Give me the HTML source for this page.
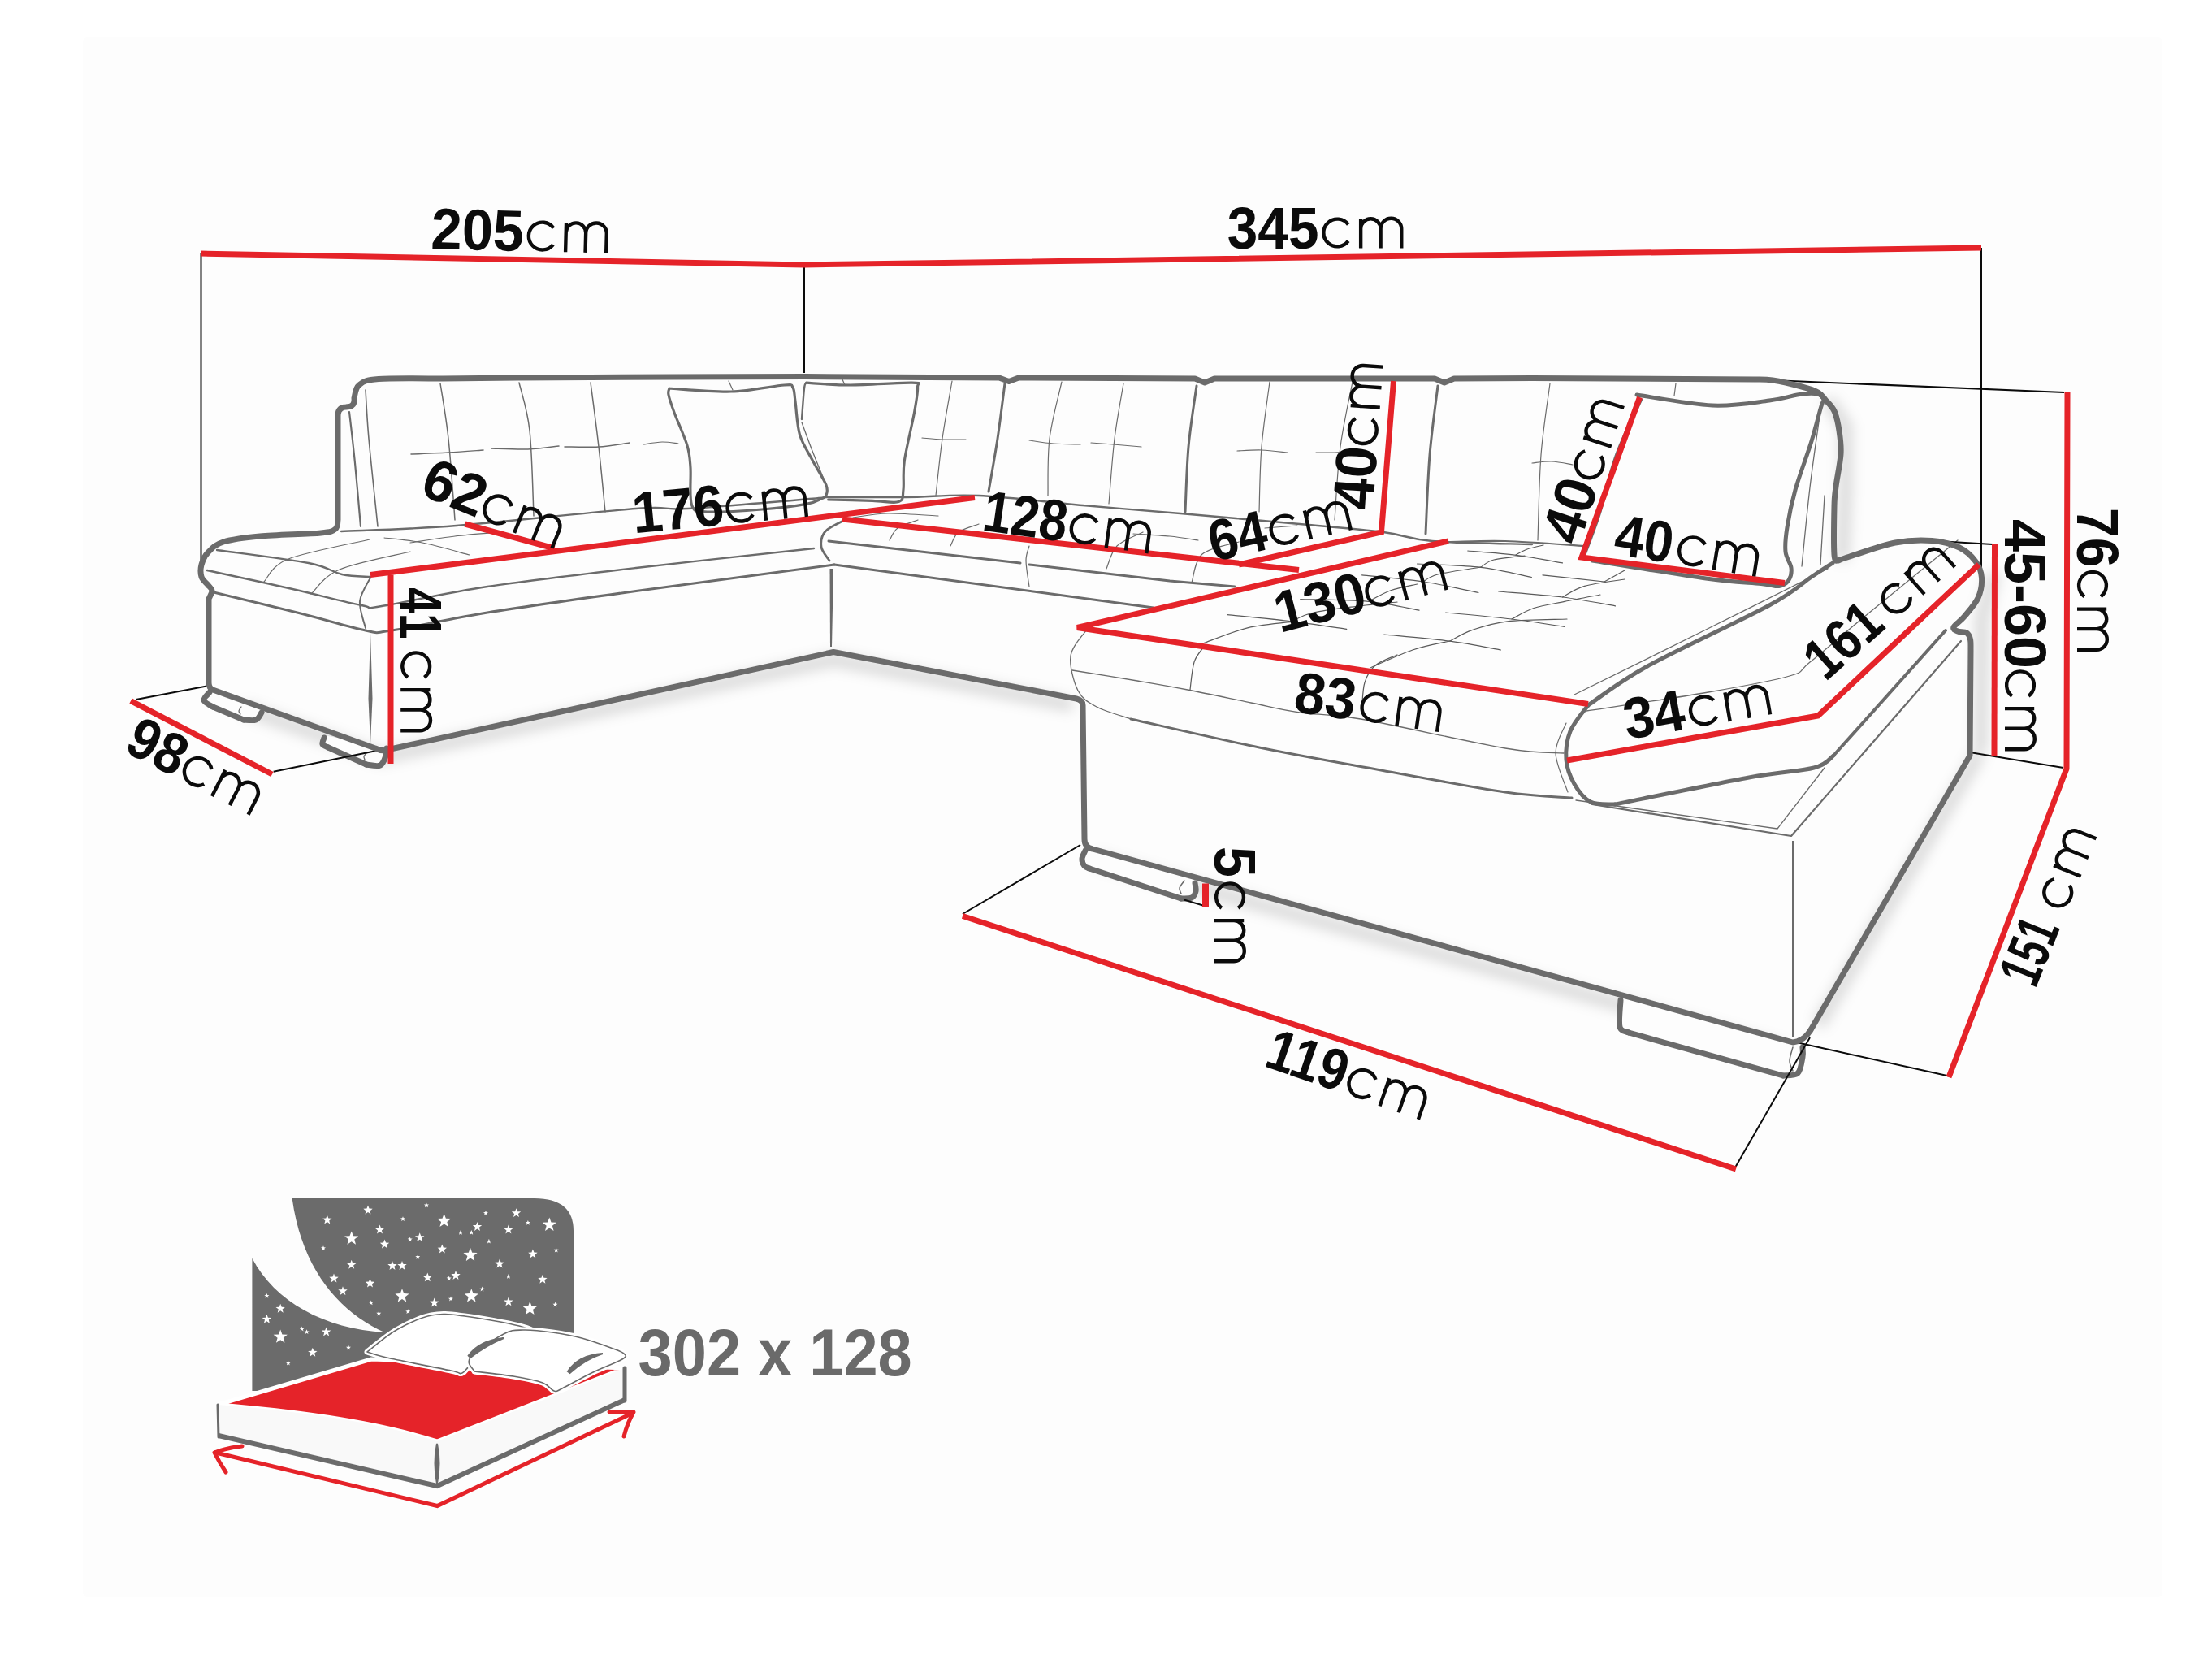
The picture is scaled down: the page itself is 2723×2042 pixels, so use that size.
<!DOCTYPE html>
<html><head><meta charset="utf-8"><style>
html,body{margin:0;padding:0;background:#fff;width:2723px;height:2042px;overflow:hidden}
svg{display:block}
text{font-family:"Liberation Sans",sans-serif}
</style></head><body>
<svg width="2723" height="2042" viewBox="0 0 2723 2042"><rect width="2723" height="2042" fill="#ffffff"/>
<rect x="102" y="46" width="2560" height="1920" rx="6" fill="#fdfdfd"/>
<defs><filter id="sh" x="-20%" y="-20%" width="140%" height="140%"><feGaussianBlur stdDeviation="8"/></filter></defs>
<g filter="url(#sh)" fill="none" stroke="#000" stroke-opacity="0.14" stroke-width="16"><path d="M300,872 L470,932 L1026,812 L1320,868"/><path d="M1350,1058 L2195,1292"/><path d="M2238,1262 L2436,928"/><path d="M2250,492 L2272,525 L2272,600 L2268,690"/><path d="M2455,705 L2440,760 L2438,925"/></g>
<path d="M258,849 L251,862 L262,870 L300,886 L315,886 L322,877 L322,870 Z" fill="#fdfdfd"/>
<path d="M399,905 L397,916 L404,920 L451,941 L468,942 L475,930 L476,920 Z" fill="#fdfdfd"/>
<path d="M1340,1044 L1332,1057 L1335,1066 L1341,1069 L1454,1106 L1467,1105 L1472,1097 L1471,1080 Z" fill="#fdfdfd"/>
<path d="M1995,1222 L1994,1264 L2005,1271 L2195,1324 L2213,1321 L2219,1301 L2219,1283 L2207,1283 Z" fill="#fdfdfd"/>
<path d="M430.0,507.0 C431.2,517.5 434.7,546.5 437.0,570.0 C439.3,593.5 442.8,635.0 444.0,648.0" fill="none" stroke="#6b6b6b" stroke-width="2.2" stroke-linecap="round" stroke-linejoin="round" />
<path d="M450.0,480.0 C450.7,490.0 451.5,512.0 454.0,540.0 C456.5,568.0 463.2,630.0 465.0,648.0" fill="none" stroke="#6b6b6b" stroke-width="1.6" stroke-linecap="round" stroke-linejoin="round" />
<path d="M542.0,472.0 C543.7,483.3 549.0,512.0 552.0,540.0 C555.0,568.0 558.7,623.3 560.0,640.0" fill="none" stroke="#6b6b6b" stroke-width="1.5" stroke-linecap="round" stroke-linejoin="round" />
<path d="M639.0,471.0 C641.2,480.8 649.0,502.7 652.0,530.0 C655.0,557.3 656.2,617.5 657.0,635.0" fill="none" stroke="#6b6b6b" stroke-width="1.5" stroke-linecap="round" stroke-linejoin="round" />
<path d="M727.0,471.0 C728.7,484.2 734.0,523.5 737.0,550.0 C740.0,576.5 743.7,616.7 745.0,630.0" fill="none" stroke="#6b6b6b" stroke-width="1.5" stroke-linecap="round" stroke-linejoin="round" />
<path d="M506.0,559.0 C513.7,558.7 537.2,557.8 552.0,557.0 C566.8,556.2 587.8,554.5 595.0,554.0" fill="none" stroke="#6b6b6b" stroke-width="1.5" stroke-linecap="round" stroke-linejoin="round" />
<path d="M605.0,552.0 C612.5,552.2 636.2,553.5 650.0,553.0 C663.8,552.5 681.7,549.7 688.0,549.0" fill="none" stroke="#6b6b6b" stroke-width="1.5" stroke-linecap="round" stroke-linejoin="round" />
<path d="M695.0,550.0 C702.0,550.0 723.7,550.8 737.0,550.0 C750.3,549.2 768.7,545.8 775.0,545.0" fill="none" stroke="#6b6b6b" stroke-width="1.5" stroke-linecap="round" stroke-linejoin="round" />
<path d="M420.0,654.0 C443.7,652.8 501.5,651.7 562.0,647.0 C622.5,642.3 735.5,629.5 783.0,626.0 C830.5,622.5 808.3,628.2 847.0,626.0 C885.7,623.8 987.0,614.8 1015.0,612.5" fill="none" stroke="#6b6b6b" stroke-width="2.4" stroke-linecap="round" stroke-linejoin="round" />
<path d="M267.0,677.0 C285.8,679.7 354.3,688.0 380.0,693.0 C405.7,698.0 408.3,704.2 421.0,707.0 C433.7,709.8 450.2,709.5 456.0,710.0" fill="none" stroke="#6b6b6b" stroke-width="2.4" stroke-linecap="round" stroke-linejoin="round" />
<path d="M255.0,702.0 C272.5,705.8 328.3,717.8 360.0,725.0 C391.7,732.2 426.7,741.5 445.0,745.0 C463.3,748.5 444.2,749.8 470.0,746.0 C495.8,742.2 547.8,729.8 600.0,722.0 C652.2,714.2 716.0,706.8 783.0,699.0 C850.0,691.2 965.5,679.0 1002.0,675.0" fill="none" stroke="#6b6b6b" stroke-width="2.4" stroke-linecap="round" stroke-linejoin="round" />
<path d="M263.0,729.0 C280.8,733.3 338.8,747.2 370.0,755.0 C401.2,762.8 431.3,772.5 450.0,776.0 C468.7,779.5 457.0,779.7 482.0,776.0 C507.0,772.3 549.8,762.1 600.0,754.0 C650.2,745.9 711.8,737.3 783.0,727.5 C854.2,717.7 986.3,700.4 1027.0,695.0" fill="none" stroke="#6b6b6b" stroke-width="3" stroke-linecap="round" stroke-linejoin="round" />
<path d="M456.0,711.0 C453.8,715.8 444.0,729.7 443.0,740.0 C442.0,750.3 448.8,767.5 450.0,773.0" fill="none" stroke="#6b6b6b" stroke-width="2" stroke-linecap="round" stroke-linejoin="round" />
<path d="M456,778 L458.5,860 L456,916 L453.5,860 Z" fill="#6b6b6b"/>
<path d="M325.0,716.0 C330.0,711.3 333.3,696.7 355.0,688.0 C376.7,679.3 438.3,668.0 455.0,664.0" fill="none" stroke="#6b6b6b" stroke-width="1.2" stroke-linecap="round" stroke-linejoin="round" />
<path d="M383.0,731.0 C388.8,726.0 397.7,709.7 418.0,701.0 C438.3,692.3 490.5,682.7 505.0,679.0" fill="none" stroke="#6b6b6b" stroke-width="1.2" stroke-linecap="round" stroke-linejoin="round" />
<path d="M473.0,662.0 C480.8,663.0 502.5,664.5 520.0,668.0 C537.5,671.5 568.3,680.5 578.0,683.0" fill="none" stroke="#6b6b6b" stroke-width="1.2" stroke-linecap="round" stroke-linejoin="round" />
<path d="M505.0,668.0 C514.2,666.7 541.7,662.2 560.0,660.0 C578.3,657.8 605.8,655.8 615.0,655.0" fill="none" stroke="#6b6b6b" stroke-width="1.2" stroke-linecap="round" stroke-linejoin="round" />
<path d="M1021.5,700 L1026,700 L1024,796 L1022,796 Z" fill="#6b6b6b"/>
<path d="M824.0,478.0 C836.7,478.7 876.4,482.7 900.0,482.0 C923.6,481.3 952.8,474.8 965.5,474.0 C978.2,473.2 973.8,473.7 976.0,477.0 C978.2,480.3 977.6,484.3 979.0,494.0 C980.4,503.7 980.9,522.8 984.5,535.0 C988.1,547.2 995.3,557.2 1000.7,567.5 C1006.1,577.8 1014.3,590.0 1017.0,597.0 C1019.7,604.0 1017.9,606.7 1017.0,609.5 C1016.1,612.3 1015.7,611.8 1011.6,613.6 C1007.5,615.4 1004.9,618.2 992.6,620.4 C980.3,622.6 958.4,625.4 938.0,627.0 C917.6,628.6 884.9,630.9 870.5,630.0 C856.1,629.1 855.0,630.8 851.6,621.7 C848.2,612.6 850.9,587.8 850.0,575.6 C849.1,563.4 849.3,559.8 846.0,548.5 C842.7,537.2 833.8,518.2 830.0,507.8 C826.2,497.4 824.0,491.0 823.0,486.0 C822.0,481.0 823.8,479.3 824.0,478.0" fill="none" stroke="#6b6b6b" stroke-width="3.2" stroke-linecap="round" stroke-linejoin="round" />
<path d="M992.6,471.2 C1001.6,471.7 1025.1,474.0 1046.8,474.0 C1068.5,474.0 1109.0,470.8 1122.8,471.2 C1136.6,471.6 1129.1,470.5 1129.6,476.6 C1130.0,482.7 1128.2,492.7 1125.5,507.8 C1122.8,523.0 1115.5,551.7 1113.3,567.5 C1111.0,583.3 1113.1,594.4 1112.0,602.7 C1110.9,611.1 1112.8,615.3 1106.5,617.6 C1100.2,619.9 1088.5,616.7 1074.0,616.3 C1059.5,615.9 1028.8,615.2 1019.7,615.0" fill="none" stroke="#6b6b6b" stroke-width="3.2" stroke-linecap="round" stroke-linejoin="round" />
<path d="M992.6,471.2 C992.2,472.3 990.9,470.5 990.0,478.0 C989.1,485.5 987.5,509.7 987.0,516.0" fill="none" stroke="#6b6b6b" stroke-width="2.4" stroke-linecap="round" stroke-linejoin="round" />
<path d="M987.0,520.0 C989.2,525.8 995.0,542.2 1000.0,555.0 C1005.0,567.8 1014.2,590.0 1017.0,597.0" fill="none" stroke="#6b6b6b" stroke-width="1.3" stroke-linecap="round" stroke-linejoin="round" />
<path d="M792.0,547.0 C795.8,546.5 807.8,544.2 815.0,544.0 C822.2,543.8 831.7,545.7 835.0,546.0" fill="none" stroke="#6b6b6b" stroke-width="1.2" stroke-linecap="round" stroke-linejoin="round" />
<path d="M897.0,469.0 C897.8,470.8 901.2,478.2 902.0,480.0" fill="none" stroke="#6b6b6b" stroke-width="1.2" stroke-linecap="round" stroke-linejoin="round" />
<path d="M1037.0,467.0 C1037.5,468.2 1039.5,472.8 1040.0,474.0" fill="none" stroke="#6b6b6b" stroke-width="1.2" stroke-linecap="round" stroke-linejoin="round" />
<path d="M1172.0,469.0 C1170.0,480.8 1163.3,516.5 1160.0,540.0 C1156.7,563.5 1153.3,598.3 1152.0,610.0" fill="none" stroke="#6b6b6b" stroke-width="1.2" stroke-linecap="round" stroke-linejoin="round" />
<path d="M1135.0,539.0 C1139.2,539.3 1151.0,540.7 1160.0,541.0 C1169.0,541.3 1184.2,541.0 1189.0,541.0" fill="none" stroke="#6b6b6b" stroke-width="1.2" stroke-linecap="round" stroke-linejoin="round" />
<path d="M1237.0,472.0 C1235.5,483.3 1231.3,517.8 1228.0,540.0 C1224.7,562.2 1218.8,594.2 1217.0,605.0" fill="none" stroke="#6b6b6b" stroke-width="3" stroke-linecap="round" stroke-linejoin="round" />
<path d="M1307.0,470.0 C1304.5,481.7 1294.8,516.7 1292.0,540.0 C1289.2,563.3 1290.3,598.3 1290.0,610.0" fill="none" stroke="#6b6b6b" stroke-width="1.2" stroke-linecap="round" stroke-linejoin="round" />
<path d="M1267.0,542.0 C1272.0,542.7 1286.5,545.2 1297.0,546.0 C1307.5,546.8 1324.5,546.8 1330.0,547.0" fill="none" stroke="#6b6b6b" stroke-width="1.2" stroke-linecap="round" stroke-linejoin="round" />
<path d="M1015.0,612.0 C1031.7,612.0 1083.3,612.3 1115.0,612.0 C1146.7,611.7 1168.7,608.3 1205.0,610.0 C1241.3,611.7 1291.7,618.3 1333.0,622.0 C1374.3,625.7 1408.5,628.2 1453.0,632.0 C1497.5,635.8 1558.3,641.2 1600.0,645.0 C1641.7,648.8 1675.8,651.5 1703.0,655.0 C1730.2,658.5 1732.5,663.5 1763.0,666.0 C1793.5,668.5 1865.5,669.3 1886.0,670.0" fill="none" stroke="#6b6b6b" stroke-width="2.4" stroke-linecap="round" stroke-linejoin="round" />
<path d="M1040.0,640.0 C1036.0,642.3 1020.8,648.5 1016.0,654.0 C1011.2,659.5 1010.2,667.0 1011.0,673.0 C1011.8,679.0 1019.3,687.2 1021.0,690.0" fill="none" stroke="#6b6b6b" stroke-width="2.8" stroke-linecap="round" stroke-linejoin="round" />
<path d="M1020.0,666.0 L1256.0,693.0" fill="none" stroke="#6b6b6b" stroke-width="3" stroke-linecap="round" stroke-linejoin="round" />
<path d="M1267.0,695.0 L1440.0,715.0 L1520.0,722.0" fill="none" stroke="#6b6b6b" stroke-width="3" stroke-linecap="round" stroke-linejoin="round" />
<path d="M1027.0,695.0 L1420.0,748.0" fill="none" stroke="#6b6b6b" stroke-width="3" stroke-linecap="round" stroke-linejoin="round" />
<path d="M1267.0,672.0 C1266.3,675.0 1263.0,681.7 1263.0,690.0 C1263.0,698.3 1266.3,716.7 1267.0,722.0" fill="none" stroke="#6b6b6b" stroke-width="1.2" stroke-linecap="round" stroke-linejoin="round" />
<path d="M1095.0,665.0 C1096.7,662.5 1099.2,654.2 1105.0,650.0 C1110.8,645.8 1125.8,641.7 1130.0,640.0" fill="none" stroke="#6b6b6b" stroke-width="1.2" stroke-linecap="round" stroke-linejoin="round" />
<path d="M1170.0,672.0 C1171.7,669.2 1174.2,659.5 1180.0,655.0 C1185.8,650.5 1200.8,646.7 1205.0,645.0" fill="none" stroke="#6b6b6b" stroke-width="1.2" stroke-linecap="round" stroke-linejoin="round" />
<path d="M1050.0,637.0 C1057.2,636.2 1075.5,632.3 1093.0,632.0 C1110.5,631.7 1144.7,634.5 1155.0,635.0" fill="none" stroke="#6b6b6b" stroke-width="1.2" stroke-linecap="round" stroke-linejoin="round" />
<path d="M1362.0,700.0 C1364.2,695.3 1367.5,679.5 1375.0,672.0 C1382.5,664.5 1401.7,657.8 1407.0,655.0" fill="none" stroke="#6b6b6b" stroke-width="1.2" stroke-linecap="round" stroke-linejoin="round" />
<path d="M1467.0,717.0 C1469.2,711.2 1470.3,690.3 1480.0,682.0 C1489.7,673.7 1517.5,669.5 1525.0,667.0" fill="none" stroke="#6b6b6b" stroke-width="1.2" stroke-linecap="round" stroke-linejoin="round" />
<path d="M1395.0,657.0 C1402.5,657.5 1426.7,658.7 1440.0,660.0 C1453.3,661.3 1469.2,664.2 1475.0,665.0" fill="none" stroke="#6b6b6b" stroke-width="1.2" stroke-linecap="round" stroke-linejoin="round" />
<path d="M1557.0,650.0 C1563.7,649.5 1590.3,647.5 1597.0,647.0" fill="none" stroke="#6b6b6b" stroke-width="1.2" stroke-linecap="round" stroke-linejoin="round" />
<path d="M1765.0,666.0 C1767.8,666.2 1767.3,667.0 1782.0,667.0 C1796.7,667.0 1825.0,665.2 1853.0,666.0 C1881.0,666.8 1933.8,671.0 1950.0,672.0" fill="none" stroke="#6b6b6b" stroke-width="2.2" stroke-linecap="round" stroke-linejoin="round" />
<path d="M1383.0,472.0 C1381.2,483.3 1375.0,515.3 1372.0,540.0 C1369.0,564.7 1366.2,606.7 1365.0,620.0" fill="none" stroke="#6b6b6b" stroke-width="1.2" stroke-linecap="round" stroke-linejoin="round" />
<path d="M1563.0,470.0 C1561.3,483.3 1555.2,523.3 1553.0,550.0 C1550.8,576.7 1550.5,616.7 1550.0,630.0" fill="none" stroke="#6b6b6b" stroke-width="1.2" stroke-linecap="round" stroke-linejoin="round" />
<path d="M1665.0,470.0 C1662.5,483.3 1653.7,521.7 1650.0,550.0 C1646.3,578.3 1644.2,625.0 1643.0,640.0" fill="none" stroke="#6b6b6b" stroke-width="1.2" stroke-linecap="round" stroke-linejoin="round" />
<path d="M1473.0,475.0 C1471.3,487.5 1465.3,524.2 1463.0,550.0 C1460.7,575.8 1459.7,616.7 1459.0,630.0" fill="none" stroke="#6b6b6b" stroke-width="3" stroke-linecap="round" stroke-linejoin="round" />
<path d="M1770.0,475.0 C1768.3,489.2 1762.5,529.7 1760.0,560.0 C1757.5,590.3 1755.8,640.8 1755.0,657.0" fill="none" stroke="#6b6b6b" stroke-width="3" stroke-linecap="round" stroke-linejoin="round" />
<path d="M1343.0,545.0 C1347.5,545.3 1359.7,546.2 1370.0,547.0 C1380.3,547.8 1399.2,549.5 1405.0,550.0" fill="none" stroke="#6b6b6b" stroke-width="1.2" stroke-linecap="round" stroke-linejoin="round" />
<path d="M1523.0,555.0 C1528.0,554.8 1542.7,553.7 1553.0,554.0 C1563.3,554.3 1579.7,556.5 1585.0,557.0" fill="none" stroke="#6b6b6b" stroke-width="1.2" stroke-linecap="round" stroke-linejoin="round" />
<path d="M1620.0,557.0 C1623.8,557.0 1636.3,557.2 1643.0,557.0 C1649.7,556.8 1657.2,556.2 1660.0,556.0" fill="none" stroke="#6b6b6b" stroke-width="1.2" stroke-linecap="round" stroke-linejoin="round" />
<path d="M1908.0,472.0 C1906.2,486.7 1899.5,527.8 1897.0,560.0 C1894.5,592.2 1893.7,647.5 1893.0,665.0" fill="none" stroke="#6b6b6b" stroke-width="1.2" stroke-linecap="round" stroke-linejoin="round" />
<path d="M2063.0,472.0 C2062.7,474.5 2061.3,484.5 2061.0,487.0" fill="none" stroke="#6b6b6b" stroke-width="1.2" stroke-linecap="round" stroke-linejoin="round" />
<path d="M1886.0,570.0 C1890.0,569.7 1901.7,567.7 1910.0,568.0 C1918.3,568.3 1931.7,571.3 1936.0,572.0" fill="none" stroke="#6b6b6b" stroke-width="1.2" stroke-linecap="round" stroke-linejoin="round" />
<path d="M1337.0,776.0 C1333.8,781.2 1319.7,794.7 1318.0,807.0 C1316.3,819.3 1321.7,839.5 1327.0,850.0 C1332.3,860.5 1339.2,864.2 1350.0,870.0 C1360.8,875.8 1385.0,882.5 1392.0,885.0" fill="none" stroke="#6b6b6b" stroke-width="1.3" stroke-linecap="round" stroke-linejoin="round" />
<path d="M1392.0,885.0 C1418.3,890.8 1498.7,909.5 1550.0,920.0 C1601.3,930.5 1649.5,938.8 1700.0,948.0 C1750.5,957.2 1813.8,969.3 1853.0,975.0 C1892.2,980.7 1921.3,980.8 1935.0,982.0" fill="none" stroke="#6b6b6b" stroke-width="3" stroke-linecap="round" stroke-linejoin="round" />
<path d="M1320.0,825.0 C1333.3,827.2 1376.3,834.0 1400.0,838.0 C1423.7,842.0 1438.7,844.5 1462.0,849.0 C1485.3,853.5 1517.0,860.3 1540.0,865.0 C1563.0,869.7 1577.5,873.7 1600.0,877.0 C1622.5,880.3 1632.8,877.7 1675.0,885.0 C1717.2,892.3 1811.3,914.0 1853.0,921.0 C1894.7,928.0 1913.0,926.0 1925.0,927.0" fill="none" stroke="#6b6b6b" stroke-width="1.3" stroke-linecap="round" stroke-linejoin="round" />
<path d="M1928.0,890.0 C1925.8,896.2 1914.7,912.8 1915.0,927.0 C1915.3,941.2 1927.5,967.0 1930.0,975.0" fill="none" stroke="#6b6b6b" stroke-width="1.2" stroke-linecap="round" stroke-linejoin="round" />
<path d="M1955.0,868.0 C1967.2,860.0 1990.8,840.5 2028.0,820.0 C2065.2,799.5 2144.3,763.3 2178.0,745.0 C2211.7,726.7 2217.0,718.7 2230.0,710.0 C2243.0,701.3 2251.7,695.8 2256.0,693.0" fill="none" stroke="#6b6b6b" stroke-width="5" stroke-linecap="round" stroke-linejoin="round" />
<path d="M1938.0,855.0 C1965.0,841.7 2048.0,800.8 2100.0,775.0 C2152.0,749.2 2225.0,712.5 2250.0,700.0" fill="none" stroke="#6b6b6b" stroke-width="1.3" stroke-linecap="round" stroke-linejoin="round" />
<path d="M1955.0,868.0 C1951.3,873.3 1937.5,888.8 1933.0,900.0 C1928.5,911.2 1927.2,924.2 1928.0,935.0 C1928.8,945.8 1933.0,956.3 1938.0,965.0 C1943.0,973.7 1949.7,982.8 1958.0,987.0 C1966.3,991.2 1983.0,989.5 1988.0,990.0" fill="none" stroke="#6b6b6b" stroke-width="5" stroke-linecap="round" stroke-linejoin="round" />
<path d="M1988.0,990.0 C2015.5,984.5 2112.2,964.5 2153.0,957.0 C2193.8,949.5 2215.7,949.5 2233.0,945.0 C2250.3,940.5 2253.0,932.5 2257.0,930.0" fill="none" stroke="#6b6b6b" stroke-width="5" stroke-linecap="round" stroke-linejoin="round" />
<path d="M2257.0,930.0 L2395.0,776.0" fill="none" stroke="#6b6b6b" stroke-width="4" stroke-linecap="round" stroke-linejoin="round" />
<path d="M1953.0,875.0 C1978.0,871.2 2061.3,859.2 2103.0,852.0 C2144.7,844.8 2182.2,838.2 2203.0,832.0 C2223.8,825.8 2211.8,827.8 2228.0,815.0 C2244.2,802.2 2269.7,780.0 2300.0,755.0 C2330.3,730.0 2391.7,680.0 2410.0,665.0" fill="none" stroke="#6b6b6b" stroke-width="1.3" stroke-linecap="round" stroke-linejoin="round" />
<path d="M1940.0,985.0 L2188.0,1020.0 L2246.0,945.0" fill="none" stroke="#6b6b6b" stroke-width="1.3" stroke-linecap="round" stroke-linejoin="round" />
<path d="M1960.0,990.0 L2205.0,1029.0 L2414.0,789.0" fill="none" stroke="#6b6b6b" stroke-width="2.2" stroke-linecap="round" stroke-linejoin="round" />
<path d="M2206,1035 L2209,1035 L2209,1277 L2206,1277 Z" fill="#6b6b6b"/>
<path d="M2015.0,486.0 C2030.5,488.2 2080.8,497.8 2108.0,499.0 C2135.2,500.2 2159.7,495.3 2178.0,493.0 C2196.3,490.7 2208.0,486.3 2218.0,485.0 C2228.0,483.7 2233.3,483.8 2238.0,485.0 C2242.7,486.2 2244.7,490.8 2246.0,492.0" fill="none" stroke="#6b6b6b" stroke-width="5" stroke-linecap="round" stroke-linejoin="round" />
<path d="M2246.0,492.0 C2245.3,493.3 2244.7,491.5 2242.0,500.0 C2239.3,508.5 2235.3,525.8 2230.0,543.0 C2224.7,560.2 2215.0,585.3 2210.0,603.0 C2205.0,620.7 2202.0,636.3 2200.0,649.0 C2198.0,661.7 2197.2,670.7 2198.0,679.0 C2198.8,687.3 2204.3,693.2 2205.0,699.0 C2205.7,704.8 2204.5,710.2 2202.0,714.0 C2199.5,717.8 2195.7,720.8 2190.0,721.5 C2184.3,722.2 2183.0,720.1 2168.0,718.5 C2153.0,716.9 2134.7,716.8 2100.0,712.0 C2065.3,707.2 1983.3,693.7 1960.0,690.0" fill="none" stroke="#6b6b6b" stroke-width="5" stroke-linecap="round" stroke-linejoin="round" />
<path d="M2020.0,492.0 C2015.0,503.3 1998.7,536.2 1990.0,560.0 C1981.3,583.8 1974.7,614.3 1968.0,635.0 C1961.3,655.7 1953.0,675.8 1950.0,684.0" fill="none" stroke="#6b6b6b" stroke-width="4" stroke-linecap="round" stroke-linejoin="round" />
<path d="M2241.0,505.0 C2238.8,520.8 2231.8,568.0 2228.0,600.0 C2224.2,632.0 2219.7,680.8 2218.0,697.0" fill="none" stroke="#6b6b6b" stroke-width="1.3" stroke-linecap="round" stroke-linejoin="round" />
<path d="M2246.0,610.0 C2245.2,624.2 2241.8,680.8 2241.0,695.0" fill="none" stroke="#6b6b6b" stroke-width="1.3" stroke-linecap="round" stroke-linejoin="round" />
<path d="M258.0,852.0 C256.8,853.7 250.3,859.0 251.0,862.0 C251.7,865.0 260.2,868.7 262.0,870.0" fill="none" stroke="#6b6b6b" stroke-width="7" stroke-linecap="round" stroke-linejoin="round" />
<path d="M262.0,870.0 L300.0,886.0" fill="none" stroke="#6b6b6b" stroke-width="7" stroke-linecap="round" stroke-linejoin="round" />
<path d="M300.0,886.0 C302.5,886.0 311.3,887.5 315.0,886.0 C318.7,884.5 320.8,878.5 322.0,877.0" fill="none" stroke="#6b6b6b" stroke-width="7" stroke-linecap="round" stroke-linejoin="round" />
<path d="M297.0,870.0 C296.5,870.8 294.2,873.5 294.0,875.0 C293.8,876.5 295.7,878.3 296.0,879.0" fill="none" stroke="#6b6b6b" stroke-width="1.3" stroke-linecap="round" stroke-linejoin="round" />
<path d="M399.0,908.0 C398.7,909.3 396.2,914.0 397.0,916.0 C397.8,918.0 402.8,919.3 404.0,920.0" fill="none" stroke="#6b6b6b" stroke-width="7" stroke-linecap="round" stroke-linejoin="round" />
<path d="M404.0,920.0 L451.0,941.0" fill="none" stroke="#6b6b6b" stroke-width="7" stroke-linecap="round" stroke-linejoin="round" />
<path d="M451.0,941.0 C453.8,941.2 464.0,943.8 468.0,942.0 C472.0,940.2 473.7,933.5 475.0,930.0 C476.3,926.5 475.8,922.5 476.0,921.0" fill="none" stroke="#6b6b6b" stroke-width="7" stroke-linecap="round" stroke-linejoin="round" />
<path d="M451.0,927.0 C450.5,927.7 448.3,929.7 448.0,931.0 C447.7,932.3 448.8,934.3 449.0,935.0" fill="none" stroke="#6b6b6b" stroke-width="1.3" stroke-linecap="round" stroke-linejoin="round" />
<path d="M1336.0,1047.0 C1335.3,1048.7 1332.2,1053.8 1332.0,1057.0 C1331.8,1060.2 1333.5,1064.0 1335.0,1066.0 C1336.5,1068.0 1340.0,1068.5 1341.0,1069.0" fill="none" stroke="#6b6b6b" stroke-width="7" stroke-linecap="round" stroke-linejoin="round" />
<path d="M1341.0,1069.0 L1454.0,1106.0" fill="none" stroke="#6b6b6b" stroke-width="7" stroke-linecap="round" stroke-linejoin="round" />
<path d="M1454.0,1106.0 C1456.2,1105.8 1464.0,1106.5 1467.0,1105.0 C1470.0,1103.5 1471.3,1100.0 1472.0,1097.0 C1472.7,1094.0 1471.2,1088.7 1471.0,1087.0" fill="none" stroke="#6b6b6b" stroke-width="7" stroke-linecap="round" stroke-linejoin="round" />
<path d="M1458.0,1084.0 C1457.0,1085.5 1452.7,1090.3 1452.0,1093.0 C1451.3,1095.7 1453.7,1098.8 1454.0,1100.0" fill="none" stroke="#6b6b6b" stroke-width="1.5" stroke-linecap="round" stroke-linejoin="round" />
<path d="M1995.0,1231.0 C1994.8,1236.5 1992.3,1257.3 1994.0,1264.0 C1995.7,1270.7 2003.2,1269.8 2005.0,1271.0" fill="none" stroke="#6b6b6b" stroke-width="7" stroke-linecap="round" stroke-linejoin="round" />
<path d="M2005.0,1271.0 L2195.0,1324.0" fill="none" stroke="#6b6b6b" stroke-width="7" stroke-linecap="round" stroke-linejoin="round" />
<path d="M2195.0,1324.0 C2198.0,1323.5 2209.0,1324.8 2213.0,1321.0 C2217.0,1317.2 2218.0,1306.3 2219.0,1301.0 C2220.0,1295.7 2219.0,1291.0 2219.0,1289.0" fill="none" stroke="#6b6b6b" stroke-width="7" stroke-linecap="round" stroke-linejoin="round" />
<path d="M2207.0,1289.0 C2206.3,1291.8 2203.0,1301.2 2203.0,1306.0 C2203.0,1310.8 2206.3,1316.0 2207.0,1318.0" fill="none" stroke="#6b6b6b" stroke-width="1.5" stroke-linecap="round" stroke-linejoin="round" />
<path d="M1806.8,678.0 C1816.8,678.9 1847.0,680.9 1866.5,683.4 C1886.0,685.9 1914.0,691.3 1923.5,692.9" fill="none" stroke="#5a5a5a" stroke-width="1.2" stroke-linecap="round" stroke-linejoin="round" />
<path d="M1866.0,683.0 C1868.3,681.8 1874.3,678.0 1880.0,676.0 C1885.7,674.0 1896.7,671.8 1900.0,671.0" fill="none" stroke="#5a5a5a" stroke-width="1.2" stroke-linecap="round" stroke-linejoin="round" />
<path d="M1744.5,694.0 C1757.6,694.7 1799.5,695.5 1823.0,698.3 C1846.5,701.0 1875.1,708.5 1885.5,710.5" fill="none" stroke="#5a5a5a" stroke-width="1.2" stroke-linecap="round" stroke-linejoin="round" />
<path d="M1823.0,698.0 C1825.7,696.5 1830.0,691.3 1839.0,689.0 C1848.0,686.7 1870.7,684.8 1877.0,684.0" fill="none" stroke="#5a5a5a" stroke-width="1.2" stroke-linecap="round" stroke-linejoin="round" />
<path d="M1676.6,707.8 C1689.3,709.2 1728.7,712.4 1752.6,716.0 C1776.5,719.6 1808.8,727.2 1820.0,729.5" fill="none" stroke="#5a5a5a" stroke-width="1.2" stroke-linecap="round" stroke-linejoin="round" />
<path d="M1752.0,716.0 C1755.0,714.5 1758.2,710.0 1770.0,707.0 C1781.8,704.0 1814.2,699.5 1823.0,698.0" fill="none" stroke="#5a5a5a" stroke-width="1.2" stroke-linecap="round" stroke-linejoin="round" />
<path d="M1899.0,707.8 C1911.7,709.2 1962.3,714.6 1975.0,716.0" fill="none" stroke="#5a5a5a" stroke-width="1.2" stroke-linecap="round" stroke-linejoin="round" />
<path d="M1975.0,716.0 C1979.2,713.7 1995.8,704.3 2000.0,702.0" fill="none" stroke="#5a5a5a" stroke-width="1.2" stroke-linecap="round" stroke-linejoin="round" />
<path d="M1844.8,728.0 C1857.9,729.2 1899.5,732.0 1923.5,735.0 C1947.5,738.0 1977.7,744.0 1988.5,745.8" fill="none" stroke="#5a5a5a" stroke-width="1.2" stroke-linecap="round" stroke-linejoin="round" />
<path d="M1923.5,735.0 C1928.0,732.7 1937.8,725.1 1950.6,721.4 C1963.3,717.7 1991.8,714.4 2000.0,713.0" fill="none" stroke="#5a5a5a" stroke-width="1.2" stroke-linecap="round" stroke-linejoin="round" />
<path d="M1600.7,737.6 C1614.7,738.1 1660.4,738.1 1684.8,740.4 C1709.2,742.7 1736.6,749.4 1747.0,751.2" fill="none" stroke="#5a5a5a" stroke-width="1.2" stroke-linecap="round" stroke-linejoin="round" />
<path d="M1684.8,740.4 C1689.3,738.1 1702.0,730.4 1711.9,726.8 C1721.9,723.2 1739.1,720.3 1744.5,719.0" fill="none" stroke="#5a5a5a" stroke-width="1.2" stroke-linecap="round" stroke-linejoin="round" />
<path d="M1779.7,754.0 C1793.2,755.3 1836.6,759.1 1861.0,762.0 C1885.4,764.9 1915.2,769.9 1926.0,771.5" fill="none" stroke="#5a5a5a" stroke-width="1.2" stroke-linecap="round" stroke-linejoin="round" />
<path d="M1861.0,762.0 C1865.5,759.8 1877.2,752.1 1888.0,748.5 C1898.8,744.9 1912.3,743.1 1926.0,740.4 C1939.7,737.6 1962.7,733.4 1970.0,732.0" fill="none" stroke="#5a5a5a" stroke-width="1.2" stroke-linecap="round" stroke-linejoin="round" />
<path d="M1511.0,756.6 C1524.2,758.0 1565.5,761.8 1590.0,764.8 C1614.5,767.8 1646.4,772.7 1657.7,774.3" fill="none" stroke="#5a5a5a" stroke-width="1.2" stroke-linecap="round" stroke-linejoin="round" />
<path d="M1590.0,764.8 C1594.5,763.0 1603.0,757.2 1617.0,754.0 C1631.0,750.8 1656.8,748.0 1674.0,745.8 C1691.2,743.6 1712.3,741.8 1720.0,741.0" fill="none" stroke="#5a5a5a" stroke-width="1.2" stroke-linecap="round" stroke-linejoin="round" />
<path d="M1703.8,781.0 C1717.3,782.4 1761.0,786.0 1785.0,789.2 C1809.0,792.4 1837.1,798.2 1847.5,800.0" fill="none" stroke="#5a5a5a" stroke-width="1.2" stroke-linecap="round" stroke-linejoin="round" />
<path d="M1785.0,789.0 C1789.5,786.8 1800.2,779.6 1812.0,775.6 C1823.8,771.6 1836.1,767.1 1855.6,764.8 C1875.1,762.5 1916.8,762.5 1929.0,762.0" fill="none" stroke="#5a5a5a" stroke-width="1.2" stroke-linecap="round" stroke-linejoin="round" />
<path d="M1481.0,791.9 C1490.1,788.7 1516.5,777.4 1535.6,772.9 C1554.6,768.4 1585.3,766.1 1595.3,764.8" fill="none" stroke="#5a5a5a" stroke-width="1.2" stroke-linecap="round" stroke-linejoin="round" />
<path d="M1687.5,821.7 C1696.1,818.1 1722.8,805.5 1739.0,800.0 C1755.2,794.5 1777.3,790.8 1785.0,789.0" fill="none" stroke="#5a5a5a" stroke-width="1.2" stroke-linecap="round" stroke-linejoin="round" />
<path d="M1465.0,848.8 C1465.8,843.2 1467.3,823.6 1470.0,815.0 C1472.7,806.4 1479.2,800.2 1481.0,797.3" fill="none" stroke="#5a5a5a" stroke-width="1.2" stroke-linecap="round" stroke-linejoin="round" />
<path d="M1676.6,870.5 C1677.2,865.4 1677.3,848.6 1680.0,840.0 C1682.7,831.4 1686.3,824.7 1693.0,819.0 C1699.7,813.3 1715.5,808.2 1720.0,806.0" fill="none" stroke="#5a5a5a" stroke-width="1.2" stroke-linecap="round" stroke-linejoin="round" />
<path d="M247.5,312.0 L247.5,692.0" fill="none" stroke="#0b0b0b" stroke-width="2" stroke-linecap="butt" stroke-linejoin="round" />
<path d="M990.0,326.0 L990.0,459.0" fill="none" stroke="#0b0b0b" stroke-width="2" stroke-linecap="butt" stroke-linejoin="round" />
<path d="M2439.0,305.0 L2439.0,705.0" fill="none" stroke="#0b0b0b" stroke-width="2" stroke-linecap="butt" stroke-linejoin="round" />
<path d="M2181.0,468.0 L2541.0,483.0" fill="none" stroke="#0b0b0b" stroke-width="2" stroke-linecap="butt" stroke-linejoin="round" />
<path d="M2385.0,666.0 L2453.0,670.0" fill="none" stroke="#0b0b0b" stroke-width="2" stroke-linecap="butt" stroke-linejoin="round" />
<path d="M2425.0,926.0 L2540.0,945.0" fill="none" stroke="#0b0b0b" stroke-width="2" stroke-linecap="butt" stroke-linejoin="round" />
<path d="M2207.0,1282.0 L2399.0,1324.5" fill="none" stroke="#0b0b0b" stroke-width="2" stroke-linecap="butt" stroke-linejoin="round" />
<path d="M2228.0,1277.0 L2136.0,1437.0" fill="none" stroke="#0b0b0b" stroke-width="2" stroke-linecap="butt" stroke-linejoin="round" />
<path d="M1185.0,1125.0 L1330.0,1040.0" fill="none" stroke="#0b0b0b" stroke-width="2" stroke-linecap="butt" stroke-linejoin="round" />
<path d="M167.4,861.0 L254.4,844.5" fill="none" stroke="#0b0b0b" stroke-width="2" stroke-linecap="butt" stroke-linejoin="round" />
<path d="M336.7,949.7 L469.6,922.8" fill="none" stroke="#0b0b0b" stroke-width="2" stroke-linecap="butt" stroke-linejoin="round" />
<path d="M1457.5,1107.5 L1482.5,1115.0" fill="none" stroke="#0b0b0b" stroke-width="2" stroke-linecap="butt" stroke-linejoin="round" />
<path d="M436,490 C437.0,487.3 437.0,477.9 442.0,474.0 C447.0,470.1 448.8,467.8 466.0,466.5 C483.2,465.2 531.8,466.1 545.0,466.0 L637,465 L727,464.5 L825,464 L991,463.5 L1230,465 L1242,469.5 L1254,465 L1471,466 L1483,471 L1495,466 L1766,466 L1778,471 L1790,466 L1886,465.5 L2160,467 C2163.7,467.2 2172.3,466.5 2182.0,468.0 C2191.7,469.5 2208.7,473.5 2218.0,476.0 C2227.3,478.5 2233.2,480.3 2238.0,483.0 C2242.8,485.7 2243.7,488.2 2247.0,492.0 C2250.3,495.8 2255.2,499.7 2258.0,506.0 C2260.8,512.3 2262.7,521.2 2264.0,530.0 C2265.3,538.8 2266.7,547.5 2266.0,559.0 C2265.3,570.5 2261.3,588.3 2260.0,599.0 C2258.7,609.7 2258.3,609.0 2258.0,623.0 C2257.7,637.0 2257.2,671.8 2258.0,683.0 C2258.8,694.2 2262.2,688.8 2263.0,690.0 C2265.3,689.2 2265.3,688.7 2277.0,685.0 C2288.7,681.3 2316.2,671.2 2333.0,668.0 C2349.8,664.8 2364.8,664.5 2378.0,665.5 C2391.2,666.5 2403.0,669.8 2412.0,674.0 C2421.0,678.2 2427.4,684.8 2432.0,691.0 C2436.6,697.2 2439.0,703.5 2439.5,711.0 C2440.0,718.5 2438.6,728.0 2435.0,736.0 C2431.4,744.0 2423.0,753.0 2418.0,759.0 C2413.0,765.0 2406.3,769.0 2405.0,772.0 C2403.7,775.0 2407.3,775.8 2410.0,777.0 C2412.7,778.2 2418.4,777.3 2421.0,779.0 C2423.6,780.7 2424.7,783.5 2425.5,787.0 C2426.3,790.5 2425.9,797.8 2426.0,800.0 L2425,930 L2230,1266 Q2222,1281 2207,1283 L1345,1045 Q1335,1043 1335,1033 L1333,868 Q1333,862 1325,860 L1026,802.5 L476,923 Q470,925 462,921 L262,849 Q257,847 257,840 L257,737 C257.7,735.3 261.2,729.8 261.0,727.0 C260.8,724.2 258.2,722.8 256.0,720.0 C253.8,717.2 249.3,714.2 248.0,710.0 C246.7,705.8 246.7,700.0 248.0,695.0 C249.3,690.0 251.5,684.7 256.0,680.0 C260.5,675.3 264.3,670.3 275.0,667.0 C285.7,663.7 300.0,661.8 320.0,660.0 C340.0,658.2 379.5,657.5 395.0,656.0 C410.5,654.5 409.5,653.7 413.0,651.0 C416.5,648.3 415.5,641.8 416.0,640.0 L416,512 Q416,501 426,501 L430,500.5 Q437,499.5 436,490 Z" fill="none" stroke="#6b6b6b" stroke-width="7" stroke-linecap="round" stroke-linejoin="round" />
<path d="M247.0,312.0 L990.0,326.0 L2439.0,305.0" fill="none" stroke="#e52329" stroke-width="7" stroke-linecap="butt" stroke-linejoin="miter" />
<path d="M572.5,645.0 L682.5,675.0" fill="none" stroke="#e52329" stroke-width="7" stroke-linecap="butt" stroke-linejoin="miter" />
<path d="M456.0,707.5 L1200.0,612.5" fill="none" stroke="#e52329" stroke-width="7" stroke-linecap="butt" stroke-linejoin="miter" />
<path d="M481.0,707.5 L481.0,940.0" fill="none" stroke="#e52329" stroke-width="7" stroke-linecap="butt" stroke-linejoin="miter" />
<path d="M1037.0,639.0 L1599.0,701.5" fill="none" stroke="#e52329" stroke-width="7" stroke-linecap="butt" stroke-linejoin="miter" />
<path d="M1525.0,695.0 L1700.5,655.0 L1715.5,469.0" fill="none" stroke="#e52329" stroke-width="7" stroke-linecap="butt" stroke-linejoin="miter" />
<path d="M1783.0,666.0 L1326.0,772.5 L1955.0,866.5" fill="none" stroke="#e52329" stroke-width="7" stroke-linecap="butt" stroke-linejoin="miter" />
<path d="M2018.5,489.0 L1947.0,686.0 L2197.0,717.5" fill="none" stroke="#e52329" stroke-width="7" stroke-linecap="butt" stroke-linejoin="miter" />
<path d="M1929.0,936.0 L2238.0,881.0 L2436.0,694.7" fill="none" stroke="#e52329" stroke-width="7" stroke-linecap="butt" stroke-linejoin="miter" />
<path d="M2455.5,670.0 L2455.0,930.0" fill="none" stroke="#e52329" stroke-width="7" stroke-linecap="butt" stroke-linejoin="miter" />
<path d="M2545.0,483.0 L2544.0,946.0 L2399.0,1326.0" fill="none" stroke="#e52329" stroke-width="7" stroke-linecap="butt" stroke-linejoin="miter" />
<path d="M1185.0,1127.5 L2137.0,1439.0" fill="none" stroke="#e52329" stroke-width="7" stroke-linecap="butt" stroke-linejoin="miter" />
<path d="M161.0,862.7 L335.0,953.0" fill="none" stroke="#e52329" stroke-width="7" stroke-linecap="butt" stroke-linejoin="miter" />
<path d="M1484.0,1087.5 L1484.0,1116.0" fill="none" stroke="#e52329" stroke-width="8" stroke-linecap="butt" stroke-linejoin="round" />
<text transform="translate(530.10,305.94) rotate(1.50)" font-size="71.43" font-weight="bold" textLength="114.35" lengthAdjust="spacingAndGlyphs" fill="#0b0b0b">205</text>
<g transform="translate(648.96,309.05) rotate(1.50) scale(1.000)" fill="none" stroke="#0b0b0b" stroke-width="4.4"><path d="M31.75,-8.83 A16.9,16.9 0 1 1 31.75,-29.17"/><path d="M47.15,0 V-36.2 M47.15,-24 A12.2,12.2 0 0 1 71.6,-24 V0 M71.6,-24 A12.8,12.8 0 0 1 97.25,-24 V0"/></g>
<text transform="translate(1510.81,305.50) rotate(0.00)" font-size="71.43" font-weight="bold" textLength="112.61" lengthAdjust="spacingAndGlyphs" fill="#0b0b0b">345</text>
<g transform="translate(1628.00,305.50) rotate(0.00) scale(1.000)" fill="none" stroke="#0b0b0b" stroke-width="4.4"><path d="M31.75,-8.83 A16.9,16.9 0 1 1 31.75,-29.17"/><path d="M47.15,0 V-36.2 M47.15,-24 A12.2,12.2 0 0 1 71.6,-24 V0 M71.6,-24 A12.8,12.8 0 0 1 97.25,-24 V0"/></g>
<text transform="translate(514.71,608.08) rotate(22.00)" font-size="71.43" font-weight="bold" textLength="78.46" lengthAdjust="spacingAndGlyphs" fill="#0b0b0b">62</text>
<g transform="translate(589.32,638.22) rotate(22.00) scale(1.000)" fill="none" stroke="#0b0b0b" stroke-width="4.4"><path d="M31.75,-8.83 A16.9,16.9 0 1 1 31.75,-29.17"/><path d="M47.15,0 V-36.2 M47.15,-24 A12.2,12.2 0 0 1 71.6,-24 V0 M71.6,-24 A12.8,12.8 0 0 1 97.25,-24 V0"/></g>
<text transform="translate(780.62,656.42) rotate(-5.50)" font-size="71.43" font-weight="bold" textLength="113.01" lengthAdjust="spacingAndGlyphs" fill="#0b0b0b">176</text>
<g transform="translate(896.09,645.30) rotate(-5.50) scale(1.000)" fill="none" stroke="#0b0b0b" stroke-width="4.4"><path d="M31.75,-8.83 A16.9,16.9 0 1 1 31.75,-29.17"/><path d="M47.15,0 V-36.2 M47.15,-24 A12.2,12.2 0 0 1 71.6,-24 V0 M71.6,-24 A12.8,12.8 0 0 1 97.25,-24 V0"/></g>
<text transform="translate(1207.48,652.44) rotate(8.00)" font-size="71.43" font-weight="bold" textLength="104.15" lengthAdjust="spacingAndGlyphs" fill="#0b0b0b">128</text>
<g transform="translate(1314.98,667.54) rotate(8.00) scale(1.000)" fill="none" stroke="#0b0b0b" stroke-width="4.4"><path d="M31.75,-8.83 A16.9,16.9 0 1 1 31.75,-29.17"/><path d="M47.15,0 V-36.2 M47.15,-24 A12.2,12.2 0 0 1 71.6,-24 V0 M71.6,-24 A12.8,12.8 0 0 1 97.25,-24 V0"/></g>
<text transform="translate(1493.80,691.51) rotate(-13.00)" font-size="71.43" font-weight="bold" textLength="71.73" lengthAdjust="spacingAndGlyphs" fill="#0b0b0b">64</text>
<g transform="translate(1568.10,674.35) rotate(-13.00) scale(1.000)" fill="none" stroke="#0b0b0b" stroke-width="4.4"><path d="M31.75,-8.83 A16.9,16.9 0 1 1 31.75,-29.17"/><path d="M47.15,0 V-36.2 M47.15,-24 A12.2,12.2 0 0 1 71.6,-24 V0 M71.6,-24 A12.8,12.8 0 0 1 97.25,-24 V0"/></g>
<text transform="translate(1689.93,628.55) rotate(-86.00)" font-size="71.43" font-weight="bold" textLength="78.02" lengthAdjust="spacingAndGlyphs" fill="#0b0b0b">40</text>
<g transform="translate(1695.51,548.69) rotate(-86.00) scale(1.000)" fill="none" stroke="#0b0b0b" stroke-width="4.4"><path d="M31.75,-8.83 A16.9,16.9 0 1 1 31.75,-29.17"/><path d="M47.15,0 V-36.2 M47.15,-24 A12.2,12.2 0 0 1 71.6,-24 V0 M71.6,-24 A12.8,12.8 0 0 1 97.25,-24 V0"/></g>
<text transform="translate(1943.67,673.01) rotate(-72.00)" font-size="71.43" font-weight="bold" textLength="79.08" lengthAdjust="spacingAndGlyphs" fill="#0b0b0b">40</text>
<g transform="translate(1969.18,594.49) rotate(-72.00) scale(1.000)" fill="none" stroke="#0b0b0b" stroke-width="4.4"><path d="M31.75,-8.83 A16.9,16.9 0 1 1 31.75,-29.17"/><path d="M47.15,0 V-36.2 M47.15,-24 A12.2,12.2 0 0 1 71.6,-24 V0 M71.6,-24 A12.8,12.8 0 0 1 97.25,-24 V0"/></g>
<text transform="translate(1985.05,681.85) rotate(9.00)" font-size="71.43" font-weight="bold" textLength="71.70" lengthAdjust="spacingAndGlyphs" fill="#0b0b0b">40</text>
<g transform="translate(2063.04,694.20) rotate(9.00) scale(1.000)" fill="none" stroke="#0b0b0b" stroke-width="4.4"><path d="M31.75,-8.83 A16.9,16.9 0 1 1 31.75,-29.17"/><path d="M47.15,0 V-36.2 M47.15,-24 A12.2,12.2 0 0 1 71.6,-24 V0 M71.6,-24 A12.8,12.8 0 0 1 97.25,-24 V0"/></g>
<text transform="translate(1575.72,779.11) rotate(-14.50)" font-size="71.43" font-weight="bold" textLength="113.37" lengthAdjust="spacingAndGlyphs" fill="#0b0b0b">130</text>
<g transform="translate(1686.50,750.46) rotate(-14.50) scale(1.000)" fill="none" stroke="#0b0b0b" stroke-width="4.4"><path d="M31.75,-8.83 A16.9,16.9 0 1 1 31.75,-29.17"/><path d="M47.15,0 V-36.2 M47.15,-24 A12.2,12.2 0 0 1 71.6,-24 V0 M71.6,-24 A12.8,12.8 0 0 1 97.25,-24 V0"/></g>
<text transform="translate(1590.98,875.72) rotate(8.00)" font-size="71.43" font-weight="bold" textLength="75.58" lengthAdjust="spacingAndGlyphs" fill="#0b0b0b">83</text>
<g transform="translate(1672.72,887.20) rotate(8.00) scale(1.000)" fill="none" stroke="#0b0b0b" stroke-width="4.4"><path d="M31.75,-8.83 A16.9,16.9 0 1 1 31.75,-29.17"/><path d="M47.15,0 V-36.2 M47.15,-24 A12.2,12.2 0 0 1 71.6,-24 V0 M71.6,-24 A12.8,12.8 0 0 1 97.25,-24 V0"/></g>
<text transform="translate(2003.34,910.29) rotate(-10.00)" font-size="71.43" font-weight="bold" textLength="75.19" lengthAdjust="spacingAndGlyphs" fill="#0b0b0b">34</text>
<g transform="translate(2083.29,896.19) rotate(-10.00) scale(1.000)" fill="none" stroke="#0b0b0b" stroke-width="4.4"><path d="M31.75,-8.83 A16.9,16.9 0 1 1 31.75,-29.17"/><path d="M47.15,0 V-36.2 M47.15,-24 A12.2,12.2 0 0 1 71.6,-24 V0 M71.6,-24 A12.8,12.8 0 0 1 97.25,-24 V0"/></g>
<text transform="translate(2247.04,839.63) rotate(-41.60)" font-size="71.43" font-weight="bold" textLength="101.70" lengthAdjust="spacingAndGlyphs" fill="#0b0b0b">161</text>
<g transform="translate(2333.75,762.64) rotate(-41.60) scale(1.000)" fill="none" stroke="#0b0b0b" stroke-width="4.4"><path d="M31.75,-8.83 A16.9,16.9 0 1 1 31.75,-29.17"/><path d="M47.15,0 V-36.2 M47.15,-24 A12.2,12.2 0 0 1 71.6,-24 V0 M71.6,-24 A12.8,12.8 0 0 1 97.25,-24 V0"/></g>
<text transform="translate(2468.00,638.92) rotate(90.00)" font-size="71.43" font-weight="bold" textLength="184.16" lengthAdjust="spacingAndGlyphs" fill="#0b0b0b">45-60</text>
<g transform="translate(2468.00,825.00) rotate(90.00) scale(1.000)" fill="none" stroke="#0b0b0b" stroke-width="4.4"><path d="M31.75,-8.83 A16.9,16.9 0 1 1 31.75,-29.17"/><path d="M47.15,0 V-36.2 M47.15,-24 A12.2,12.2 0 0 1 71.6,-24 V0 M71.6,-24 A12.8,12.8 0 0 1 97.25,-24 V0"/></g>
<text transform="translate(2557.00,625.03) rotate(90.00)" font-size="71.43" font-weight="bold" textLength="73.44" lengthAdjust="spacingAndGlyphs" fill="#0b0b0b">76</text>
<g transform="translate(2557.00,702.50) rotate(90.00) scale(1.000)" fill="none" stroke="#0b0b0b" stroke-width="4.4"><path d="M31.75,-8.83 A16.9,16.9 0 1 1 31.75,-29.17"/><path d="M47.15,0 V-36.2 M47.15,-24 A12.2,12.2 0 0 1 71.6,-24 V0 M71.6,-24 A12.8,12.8 0 0 1 97.25,-24 V0"/></g>
<text transform="translate(2505.51,1217.75) rotate(-68.00)" font-size="72.46" font-weight="bold" textLength="81.57" lengthAdjust="spacingAndGlyphs" fill="#0b0b0b">151</text>
<g transform="translate(2544.01,1122.45) rotate(-68.00) scale(1.000)" fill="none" stroke="#0b0b0b" stroke-width="4.4"><path d="M31.75,-8.83 A16.9,16.9 0 1 1 31.75,-29.17"/><path d="M47.15,0 V-36.2 M47.15,-24 A12.2,12.2 0 0 1 71.6,-24 V0 M71.6,-24 A12.8,12.8 0 0 1 97.25,-24 V0"/></g>
<text transform="translate(1554.13,1311.67) rotate(19.00)" font-size="71.43" font-weight="bold" textLength="101.50" lengthAdjust="spacingAndGlyphs" fill="#0b0b0b">119</text>
<g transform="translate(1653.97,1346.05) rotate(19.00) scale(1.000)" fill="none" stroke="#0b0b0b" stroke-width="4.4"><path d="M31.75,-8.83 A16.9,16.9 0 1 1 31.75,-29.17"/><path d="M47.15,0 V-36.2 M47.15,-24 A12.2,12.2 0 0 1 71.6,-24 V0 M71.6,-24 A12.8,12.8 0 0 1 97.25,-24 V0"/></g>
<text transform="translate(1495.00,1041.96) rotate(90.00)" font-size="72.46" font-weight="bold" textLength="37.82" lengthAdjust="spacingAndGlyphs" fill="#0b0b0b">5</text>
<g transform="translate(1495.00,1086.00) rotate(90.00) scale(1.000)" fill="none" stroke="#0b0b0b" stroke-width="4.4"><path d="M31.75,-8.83 A16.9,16.9 0 1 1 31.75,-29.17"/><path d="M47.15,0 V-36.2 M47.15,-24 A12.2,12.2 0 0 1 71.6,-24 V0 M71.6,-24 A12.8,12.8 0 0 1 97.25,-24 V0"/></g>
<text transform="translate(493.20,723.14) rotate(90.00)" font-size="72.46" font-weight="bold" textLength="63.41" lengthAdjust="spacingAndGlyphs" fill="#0b0b0b">41</text>
<g transform="translate(493.20,802.00) rotate(90.00) scale(1.000)" fill="none" stroke="#0b0b0b" stroke-width="4.4"><path d="M31.75,-8.83 A16.9,16.9 0 1 1 31.75,-29.17"/><path d="M47.15,0 V-36.2 M47.15,-24 A12.2,12.2 0 0 1 71.6,-24 V0 M71.6,-24 A12.8,12.8 0 0 1 97.25,-24 V0"/></g>
<text transform="translate(150.97,923.97) rotate(27.00)" font-size="71.43" font-weight="bold" textLength="72.38" lengthAdjust="spacingAndGlyphs" fill="#0b0b0b">98</text>
<g transform="translate(218.93,958.60) rotate(27.00) scale(1.000)" fill="none" stroke="#0b0b0b" stroke-width="4.4"><path d="M31.75,-8.83 A16.9,16.9 0 1 1 31.75,-29.17"/><path d="M47.15,0 V-36.2 M47.15,-24 A12.2,12.2 0 0 1 71.6,-24 V0 M71.6,-24 A12.8,12.8 0 0 1 97.25,-24 V0"/></g>
<path d="M359.6,1475 L658,1475 Q706,1475 706,1515 L706,1712 L310.4,1712 L310.4,1548.8 C338,1602 400,1636 473.5,1640 C420,1616 372,1565 359.6,1475 Z" fill="#6b6b6b"/>
<path d="M402.8,1495.6 L404.3,1499.6 L408.5,1499.7 L405.2,1502.4 L406.3,1506.5 L402.8,1504.1 L399.3,1506.5 L400.4,1502.4 L397.1,1499.7 L401.3,1499.6Z M453.0,1483.6 L454.5,1487.6 L458.7,1487.7 L455.4,1490.4 L456.5,1494.5 L453.0,1492.1 L449.5,1494.5 L450.6,1490.4 L447.3,1487.7 L451.5,1487.6Z M496.0,1497.2 L496.8,1499.3 L499.0,1499.4 L497.3,1500.8 L497.9,1503.0 L496.0,1501.7 L494.1,1503.0 L494.7,1500.8 L493.0,1499.4 L495.2,1499.3Z M525.0,1480.4 L525.8,1482.5 L528.0,1482.6 L526.3,1484.0 L526.9,1486.2 L525.0,1484.9 L523.1,1486.2 L523.7,1484.0 L522.0,1482.6 L524.2,1482.5Z M546.7,1493.8 L548.9,1499.7 L555.3,1500.0 L550.3,1504.0 L552.0,1510.1 L546.7,1506.6 L541.4,1510.1 L543.1,1504.0 L538.1,1500.0 L544.5,1499.7Z M598.0,1490.0 L598.8,1492.1 L601.0,1492.2 L599.3,1493.6 L599.9,1495.8 L598.0,1494.5 L596.1,1495.8 L596.7,1493.6 L595.0,1492.2 L597.2,1492.1Z M635.5,1487.2 L637.0,1491.2 L641.2,1491.3 L637.9,1494.0 L639.0,1498.1 L635.5,1495.7 L632.0,1498.1 L633.1,1494.0 L629.8,1491.3 L634.0,1491.2Z M649.9,1502.0 L650.7,1504.1 L652.9,1504.2 L651.2,1505.6 L651.8,1507.8 L649.9,1506.5 L648.0,1507.8 L648.6,1505.6 L646.9,1504.2 L649.1,1504.1Z M676.3,1498.6 L678.5,1504.5 L684.9,1504.8 L679.9,1508.8 L681.6,1514.9 L676.3,1511.4 L671.0,1514.9 L672.7,1508.8 L667.7,1504.8 L674.1,1504.5Z M467.5,1507.6 L469.0,1511.6 L473.2,1511.7 L469.9,1514.4 L471.0,1518.5 L467.5,1516.1 L464.0,1518.5 L465.1,1514.4 L461.8,1511.7 L466.0,1511.6Z M432.7,1515.4 L434.9,1521.3 L441.3,1521.6 L436.3,1525.6 L438.0,1531.7 L432.7,1528.2 L427.4,1531.7 L429.1,1525.6 L424.1,1521.6 L430.5,1521.3Z M516.7,1517.2 L518.2,1521.2 L522.4,1521.3 L519.1,1524.0 L520.2,1528.1 L516.7,1525.7 L513.2,1528.1 L514.3,1524.0 L511.0,1521.3 L515.2,1521.2Z M504.7,1522.4 L505.5,1524.5 L507.7,1524.6 L506.0,1526.0 L506.6,1528.2 L504.7,1526.9 L502.8,1528.2 L503.4,1526.0 L501.7,1524.6 L503.9,1524.5Z M587.5,1504.0 L589.0,1508.0 L593.2,1508.1 L589.9,1510.8 L591.0,1514.9 L587.5,1512.5 L584.0,1514.9 L585.1,1510.8 L581.8,1508.1 L586.0,1508.0Z M567.0,1514.0 L567.8,1516.1 L570.0,1516.2 L568.3,1517.6 L568.9,1519.8 L567.0,1518.5 L565.1,1519.8 L565.7,1517.6 L564.0,1516.2 L566.2,1516.1Z M580.3,1514.0 L581.1,1516.1 L583.3,1516.2 L581.6,1517.6 L582.2,1519.8 L580.3,1518.5 L578.4,1519.8 L579.0,1517.6 L577.3,1516.2 L579.5,1516.1Z M625.9,1507.6 L627.4,1511.6 L631.6,1511.7 L628.3,1514.4 L629.4,1518.5 L625.9,1516.1 L622.4,1518.5 L623.5,1514.4 L620.2,1511.7 L624.4,1511.6Z M398.0,1533.2 L398.8,1535.3 L401.0,1535.4 L399.3,1536.8 L399.9,1539.0 L398.0,1537.7 L396.1,1539.0 L396.7,1536.8 L395.0,1535.4 L397.2,1535.3Z M473.5,1525.6 L475.0,1529.6 L479.2,1529.7 L475.9,1532.4 L477.0,1536.5 L473.5,1534.1 L470.0,1536.5 L471.1,1532.4 L467.8,1529.7 L472.0,1529.6Z M544.3,1531.6 L545.8,1535.6 L550.0,1535.7 L546.7,1538.4 L547.8,1542.5 L544.3,1540.1 L540.8,1542.5 L541.9,1538.4 L538.6,1535.7 L542.8,1535.6Z M601.9,1524.8 L602.7,1526.9 L604.9,1527.0 L603.2,1528.4 L603.8,1530.6 L601.9,1529.3 L600.0,1530.6 L600.6,1528.4 L598.9,1527.0 L601.1,1526.9Z M579.0,1535.8 L581.2,1541.7 L587.6,1542.0 L582.6,1546.0 L584.3,1552.1 L579.0,1548.6 L573.7,1552.1 L575.4,1546.0 L570.4,1542.0 L576.8,1541.7Z M655.9,1537.6 L657.4,1541.6 L661.6,1541.7 L658.3,1544.4 L659.4,1548.5 L655.9,1546.1 L652.4,1548.5 L653.5,1544.4 L650.2,1541.7 L654.4,1541.6Z M684.7,1535.6 L685.5,1537.7 L687.7,1537.8 L686.0,1539.2 L686.6,1541.4 L684.7,1540.1 L682.8,1541.4 L683.4,1539.2 L681.7,1537.8 L683.9,1537.7Z M514.3,1544.0 L515.1,1546.1 L517.3,1546.2 L515.6,1547.6 L516.2,1549.8 L514.3,1548.5 L512.4,1549.8 L513.0,1547.6 L511.3,1546.2 L513.5,1546.1Z M432.7,1550.8 L434.2,1554.8 L438.4,1554.9 L435.1,1557.6 L436.2,1561.7 L432.7,1559.3 L429.2,1561.7 L430.3,1557.6 L427.0,1554.9 L431.2,1554.8Z M483.0,1552.0 L484.5,1556.0 L488.7,1556.1 L485.4,1558.8 L486.5,1562.9 L483.0,1560.5 L479.5,1562.9 L480.6,1558.8 L477.3,1556.1 L481.5,1556.0Z M495.0,1552.0 L496.5,1556.0 L500.7,1556.1 L497.4,1558.8 L498.5,1562.9 L495.0,1560.5 L491.5,1562.9 L492.6,1558.8 L489.3,1556.1 L493.5,1556.0Z M615.0,1549.6 L616.5,1553.6 L620.7,1553.7 L617.4,1556.4 L618.5,1560.5 L615.0,1558.1 L611.5,1560.5 L612.6,1556.4 L609.3,1553.7 L613.5,1553.6Z M411.0,1567.6 L412.5,1571.6 L416.7,1571.7 L413.4,1574.4 L414.5,1578.5 L411.0,1576.1 L407.5,1578.5 L408.6,1574.4 L405.3,1571.7 L409.5,1571.6Z M455.5,1573.6 L457.0,1577.6 L461.2,1577.7 L457.9,1580.4 L459.0,1584.5 L455.5,1582.1 L452.0,1584.5 L453.1,1580.4 L449.8,1577.7 L454.0,1577.6Z M526.3,1566.4 L527.8,1570.4 L532.0,1570.5 L528.7,1573.2 L529.8,1577.3 L526.3,1574.9 L522.8,1577.3 L523.9,1573.2 L520.6,1570.5 L524.8,1570.4Z M561.0,1564.0 L562.5,1568.0 L566.7,1568.1 L563.4,1570.8 L564.5,1574.9 L561.0,1572.5 L557.5,1574.9 L558.6,1570.8 L555.3,1568.1 L559.5,1568.0Z M552.7,1570.4 L553.5,1572.5 L555.7,1572.6 L554.0,1574.0 L554.6,1576.2 L552.7,1574.9 L550.8,1576.2 L551.4,1574.0 L549.7,1572.6 L551.9,1572.5Z M625.9,1568.0 L626.7,1570.1 L628.9,1570.2 L627.2,1571.6 L627.8,1573.8 L625.9,1572.5 L624.0,1573.8 L624.6,1571.6 L622.9,1570.2 L625.1,1570.1Z M667.9,1568.8 L669.4,1572.8 L673.6,1572.9 L670.3,1575.6 L671.4,1579.7 L667.9,1577.3 L664.4,1579.7 L665.5,1575.6 L662.2,1572.9 L666.4,1572.8Z M422.0,1583.2 L423.5,1587.2 L427.7,1587.3 L424.4,1590.0 L425.5,1594.1 L422.0,1591.7 L418.5,1594.1 L419.6,1590.0 L416.3,1587.3 L420.5,1587.2Z M495.0,1586.2 L497.2,1592.1 L503.6,1592.4 L498.6,1596.4 L500.3,1602.5 L495.0,1599.0 L489.7,1602.5 L491.4,1596.4 L486.4,1592.4 L492.8,1592.1Z M580.3,1586.2 L582.5,1592.1 L588.9,1592.4 L583.9,1596.4 L585.6,1602.5 L580.3,1599.0 L575.0,1602.5 L576.7,1596.4 L571.7,1592.4 L578.1,1592.1Z M593.5,1583.6 L594.3,1585.7 L596.5,1585.8 L594.8,1587.2 L595.4,1589.4 L593.5,1588.1 L591.6,1589.4 L592.2,1587.2 L590.5,1585.8 L592.7,1585.7Z M534.7,1597.6 L536.2,1601.6 L540.4,1601.7 L537.1,1604.4 L538.2,1608.5 L534.7,1606.1 L531.2,1608.5 L532.3,1604.4 L529.0,1601.7 L533.2,1601.6Z M555.0,1595.6 L555.8,1597.7 L558.0,1597.8 L556.3,1599.2 L556.9,1601.4 L555.0,1600.1 L553.1,1601.4 L553.7,1599.2 L552.0,1597.8 L554.2,1597.7Z M625.9,1596.4 L627.4,1600.4 L631.6,1600.5 L628.3,1603.2 L629.4,1607.3 L625.9,1604.9 L622.4,1607.3 L623.5,1603.2 L620.2,1600.5 L624.4,1600.4Z M652.3,1601.8 L654.5,1607.7 L660.9,1608.0 L655.9,1612.0 L657.6,1618.1 L652.3,1614.6 L647.0,1618.1 L648.7,1612.0 L643.7,1608.0 L650.1,1607.7Z M683.5,1602.6 L684.3,1604.7 L686.5,1604.8 L684.8,1606.2 L685.4,1608.4 L683.5,1607.1 L681.6,1608.4 L682.2,1606.2 L680.5,1604.8 L682.7,1604.7Z M456.7,1600.4 L457.5,1602.5 L459.7,1602.6 L458.0,1604.0 L458.6,1606.2 L456.7,1604.9 L454.8,1606.2 L455.4,1604.0 L453.7,1602.6 L455.9,1602.5Z M466.3,1613.6 L467.1,1615.7 L469.3,1615.8 L467.6,1617.2 L468.2,1619.4 L466.3,1618.1 L464.4,1619.4 L465.0,1617.2 L463.3,1615.8 L465.5,1615.7Z M502.3,1611.2 L503.1,1613.3 L505.3,1613.4 L503.6,1614.8 L504.2,1617.0 L502.3,1615.7 L500.4,1617.0 L501.0,1614.8 L499.3,1613.4 L501.5,1613.3Z M328.4,1592.0 L329.2,1594.1 L331.4,1594.2 L329.7,1595.6 L330.3,1597.8 L328.4,1596.5 L326.5,1597.8 L327.1,1595.6 L325.4,1594.2 L327.6,1594.1Z M345.2,1604.8 L346.7,1608.8 L350.9,1608.9 L347.6,1611.6 L348.7,1615.7 L345.2,1613.3 L341.7,1615.7 L342.8,1611.6 L339.5,1608.9 L343.7,1608.8Z M328.4,1617.8 L329.9,1621.8 L334.1,1621.9 L330.8,1624.6 L331.9,1628.7 L328.4,1626.3 L324.9,1628.7 L326.0,1624.6 L322.7,1621.9 L326.9,1621.8Z M371.6,1632.6 L372.4,1634.7 L374.6,1634.8 L372.9,1636.2 L373.5,1638.4 L371.6,1637.1 L369.7,1638.4 L370.3,1636.2 L368.6,1634.8 L370.8,1634.7Z M377.6,1636.3 L378.4,1638.4 L380.6,1638.5 L378.9,1639.9 L379.5,1642.1 L377.6,1640.8 L375.7,1642.1 L376.3,1639.9 L374.6,1638.5 L376.8,1638.4Z M401.6,1633.5 L403.1,1637.5 L407.3,1637.6 L404.0,1640.3 L405.1,1644.4 L401.6,1642.0 L398.1,1644.4 L399.2,1640.3 L395.9,1637.6 L400.1,1637.5Z M345.2,1636.5 L347.4,1642.4 L353.8,1642.7 L348.8,1646.7 L350.5,1652.8 L345.2,1649.3 L339.9,1652.8 L341.6,1646.7 L336.6,1642.7 L343.0,1642.4Z M384.8,1658.8 L386.3,1662.8 L390.5,1662.9 L387.2,1665.6 L388.3,1669.7 L384.8,1667.3 L381.3,1669.7 L382.4,1665.6 L379.1,1662.9 L383.3,1662.8Z M429.0,1655.6 L429.8,1657.7 L432.0,1657.8 L430.3,1659.2 L430.9,1661.4 L429.0,1660.1 L427.1,1661.4 L427.7,1659.2 L426.0,1657.8 L428.2,1657.7Z M354.8,1674.6 L355.6,1676.7 L357.8,1676.8 L356.1,1678.2 L356.7,1680.4 L354.8,1679.1 L352.9,1680.4 L353.5,1678.2 L351.8,1676.8 L354.0,1676.7Z" fill="#ffffff"/>
<path d="M268,1729 L457,1673 L769,1684 L538,1774 C470,1752 380,1738 268,1729 Z" fill="#e52329" stroke="#ffffff" stroke-width="5" stroke-linejoin="round"/>
<path d="M268,1729 C380,1738 470,1752 538,1774 L538,1830 L269,1769 Z" fill="#f9f9f9"/>
<path d="M538,1774 L769,1684 L769,1724 L538,1830 Z" fill="#f9f9f9"/>
<path d="M269,1767 L538,1829 L769,1723" fill="none" stroke="#6b6b6b" stroke-width="6" stroke-linecap="butt" stroke-linejoin="miter" />
<path d="M268,1729 L269,1769" fill="none" stroke="#6b6b6b" stroke-width="3" stroke-linecap="round" stroke-linejoin="round" />
<path d="M769,1684 L769,1724" fill="none" stroke="#6b6b6b" stroke-width="5" stroke-linecap="round" stroke-linejoin="round" />
<path d="M538,1777 Q543,1801 538,1826 Q533,1801 538,1777 Z" fill="#6b6b6b" stroke="#6b6b6b" stroke-width="2"/>
<path d="M452.0,1664.0 C458.0,1659.5 474.8,1644.5 488.0,1637.0 C501.2,1629.5 517.0,1621.8 531.0,1619.0 C545.0,1616.2 554.0,1617.8 572.0,1620.0 C590.0,1622.2 625.0,1628.3 639.0,1632.0 C653.0,1635.7 657.5,1637.3 656.0,1642.0 C654.5,1646.7 642.0,1654.2 630.0,1660.0 C618.0,1665.8 594.2,1672.0 584.0,1677.0 C573.8,1682.0 573.8,1688.3 569.0,1690.0 C564.2,1691.7 570.5,1690.2 555.0,1687.0 C539.5,1683.8 493.2,1674.8 476.0,1671.0 C458.8,1667.2 456.0,1665.2 452.0,1664.0 Z" fill="#ffffff" stroke="#ffffff" stroke-width="7" stroke-linejoin="round"/>
<path d="M452.0,1664.0 C458.0,1659.5 474.8,1644.5 488.0,1637.0 C501.2,1629.5 517.0,1621.8 531.0,1619.0 C545.0,1616.2 554.0,1617.8 572.0,1620.0 C590.0,1622.2 625.0,1628.3 639.0,1632.0 C653.0,1635.7 657.5,1637.3 656.0,1642.0 C654.5,1646.7 642.0,1654.2 630.0,1660.0 C618.0,1665.8 594.2,1672.0 584.0,1677.0 C573.8,1682.0 573.8,1688.3 569.0,1690.0 C564.2,1691.7 570.5,1690.2 555.0,1687.0 C539.5,1683.8 493.2,1674.8 476.0,1671.0 C458.8,1667.2 456.0,1665.2 452.0,1664.0 Z" fill="#ffffff" stroke="#6b6b6b" stroke-width="1.6" stroke-linejoin="round"/>
<path d="M584.0,1688.0 C583.2,1685.2 573.0,1678.7 579.0,1671.0 C585.0,1663.3 609.2,1647.7 620.0,1642.0 C630.8,1636.3 634.0,1637.3 644.0,1637.0 C654.0,1636.7 668.0,1638.3 680.0,1640.0 C692.0,1641.7 704.0,1643.8 716.0,1647.0 C728.0,1650.2 743.3,1655.8 752.0,1659.0 C760.7,1662.2 765.7,1663.7 768.0,1666.0 C770.3,1668.3 772.7,1669.0 766.0,1673.0 C759.3,1677.0 740.3,1684.0 728.0,1690.0 C715.7,1696.0 699.7,1705.3 692.0,1709.0 C684.3,1712.7 686.0,1713.2 682.0,1712.0 C678.0,1710.8 676.3,1705.0 668.0,1702.0 C659.7,1699.0 646.0,1696.3 632.0,1694.0 C618.0,1691.7 592.0,1689.0 584.0,1688.0 Z" fill="#ffffff" stroke="#ffffff" stroke-width="7" stroke-linejoin="round"/>
<path d="M584.0,1688.0 C583.2,1685.2 573.0,1678.7 579.0,1671.0 C585.0,1663.3 609.2,1647.7 620.0,1642.0 C630.8,1636.3 634.0,1637.3 644.0,1637.0 C654.0,1636.7 668.0,1638.3 680.0,1640.0 C692.0,1641.7 704.0,1643.8 716.0,1647.0 C728.0,1650.2 743.3,1655.8 752.0,1659.0 C760.7,1662.2 765.7,1663.7 768.0,1666.0 C770.3,1668.3 772.7,1669.0 766.0,1673.0 C759.3,1677.0 740.3,1684.0 728.0,1690.0 C715.7,1696.0 699.7,1705.3 692.0,1709.0 C684.3,1712.7 686.0,1713.2 682.0,1712.0 C678.0,1710.8 676.3,1705.0 668.0,1702.0 C659.7,1699.0 646.0,1696.3 632.0,1694.0 C618.0,1691.7 592.0,1689.0 584.0,1688.0 Z" fill="#ffffff" stroke="#6b6b6b" stroke-width="1.6" stroke-linejoin="round"/>
<path d="M576.7,1668.7 Q590,1650 620,1647 Q598,1656 579,1671 Z" fill="#6b6b6b" stroke="#6b6b6b" stroke-width="2"/>
<path d="M699,1688 Q712,1668 742,1666 Q720,1673 701.5,1690 Z" fill="#6b6b6b" stroke="#6b6b6b" stroke-width="2"/>
<path d="M263.6,1787.5 L538.3,1853.5 L780.6,1738.3" fill="none" stroke="#e52329" stroke-width="5" stroke-linecap="butt" stroke-linejoin="miter" />
<path d="M298,1780 Q275,1783 264,1788 Q270,1800 278,1812" fill="none" stroke="#e52329" stroke-width="5" stroke-linecap="round" stroke-linejoin="round" />
<path d="M750,1738 Q770,1737 780,1738 Q772,1752 768,1768" fill="none" stroke="#e52329" stroke-width="5" stroke-linecap="round" stroke-linejoin="round" />
<text transform="translate(785.61,1692.50) rotate(0.00)" font-size="80.71" font-weight="bold" textLength="337.08" lengthAdjust="spacingAndGlyphs" fill="#6a6a6a">302 x 128</text></svg>
</body></html>
